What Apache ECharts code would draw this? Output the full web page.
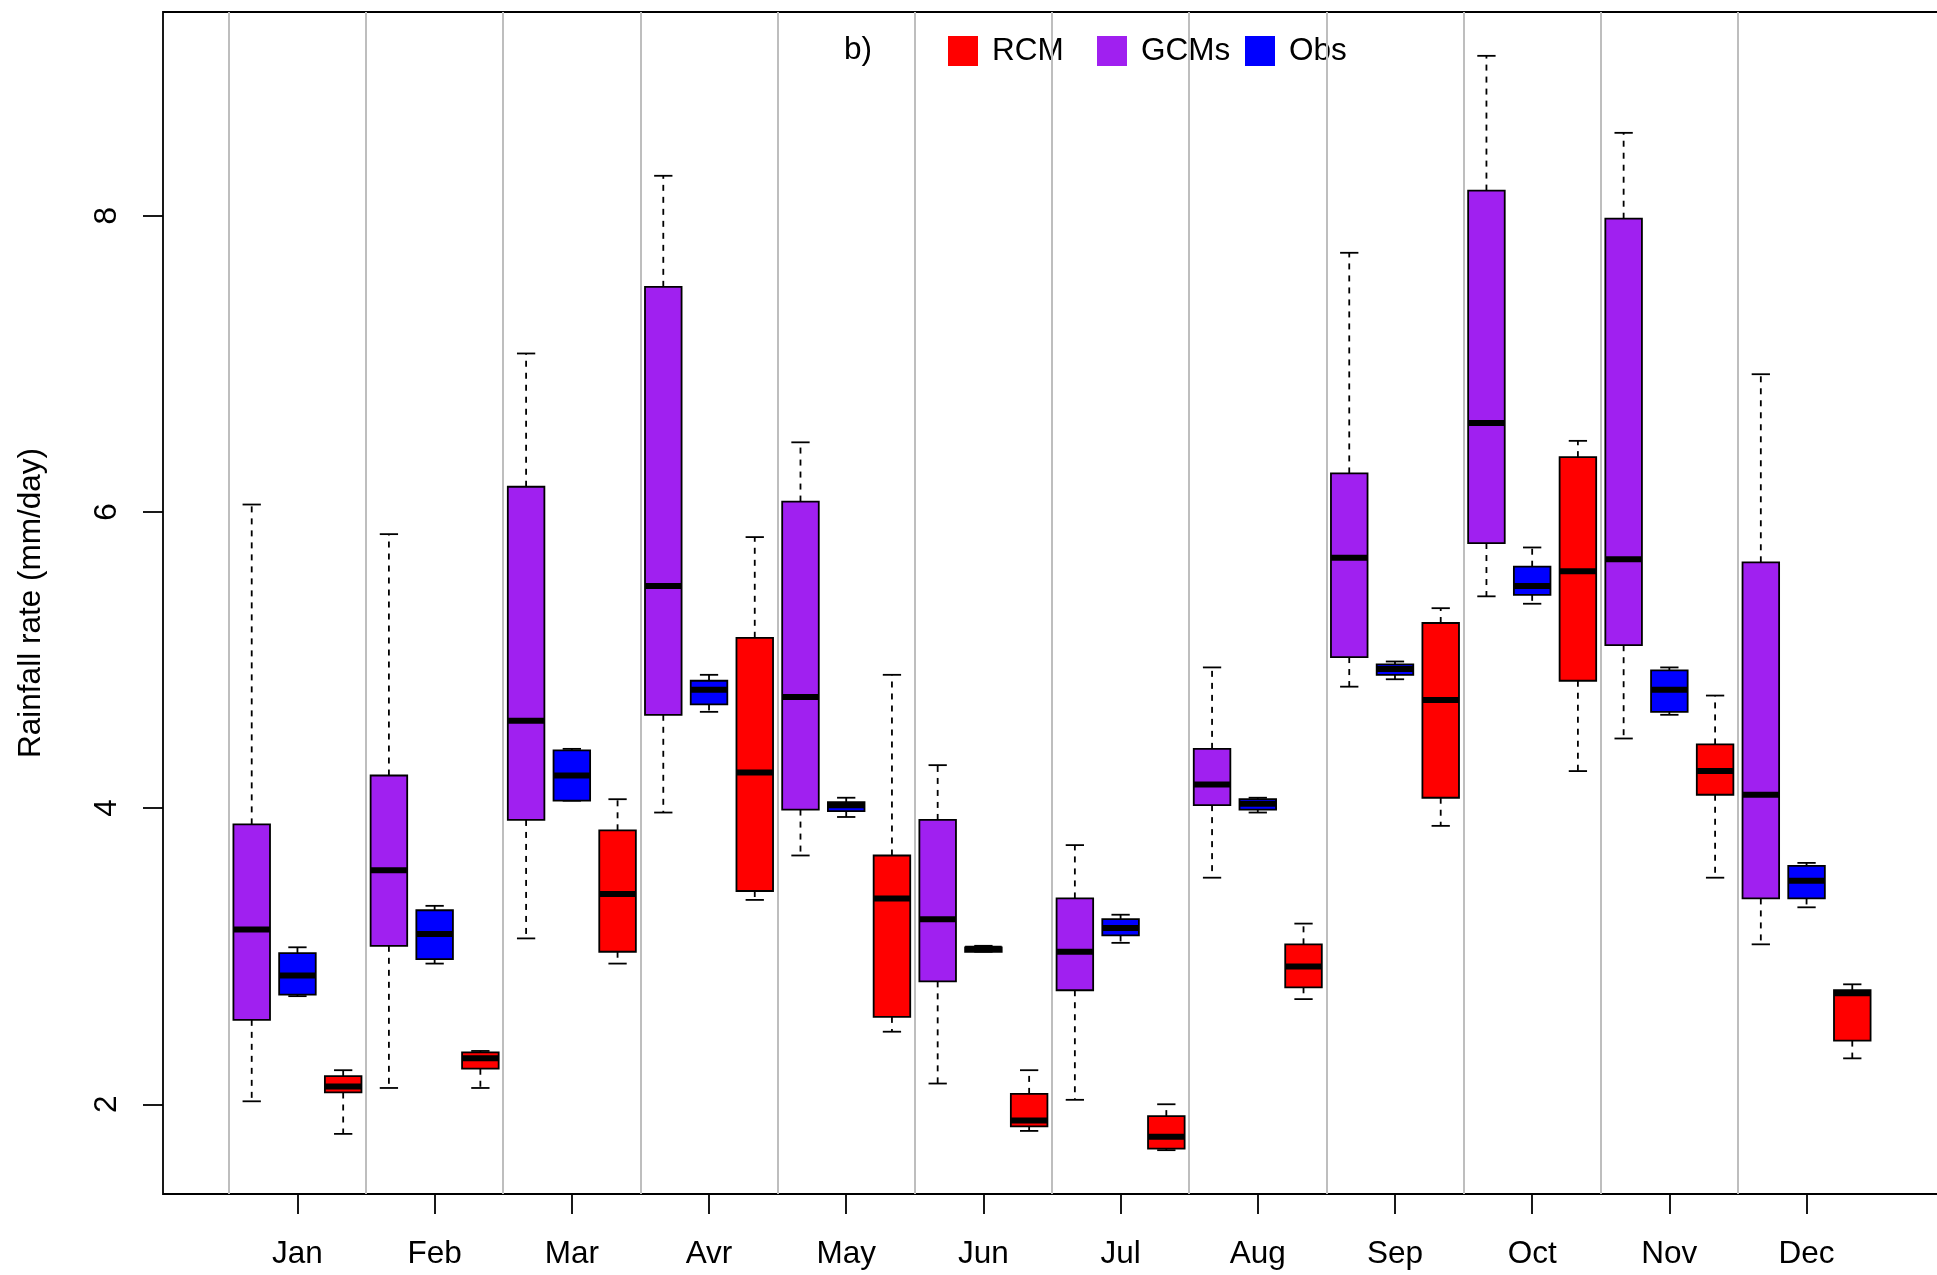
<!DOCTYPE html>
<html>
<head>
<meta charset="utf-8">
<script src="https://cdn.jsdelivr.net/npm/echarts@6/dist/echarts.min.js"></script>
<style>
html,body{margin:0;padding:0;background:#fff;}
#chart{width:1937px;height:1275px;}
</style>
</head>
<body>
<div id="chart"></div>
<script>
// Month labels
const months = ['Jan','Feb','Mar','Avr','May','Jun','Jul','Aug','Sep','Oct','Nov','Dec'];
// Each row: [lower whisker, Q1, median, Q3, upper whisker]
const gcmStats = [
  [2.02, 2.57, 3.18, 3.89, 6.05],
  [2.11, 3.07, 3.58, 4.22, 5.85],
  [3.12, 3.92, 4.59, 6.17, 7.07],
  [3.97, 4.63, 5.50, 7.52, 8.27],
  [3.68, 3.99, 4.75, 6.07, 6.47],
  [2.14, 2.83, 3.25, 3.92, 4.29],
  [2.03, 2.77, 3.03, 3.39, 3.75],
  [3.53, 4.02, 4.16, 4.40, 4.95],
  [4.82, 5.02, 5.69, 6.26, 7.75],
  [5.43, 5.79, 6.60, 8.17, 9.08],
  [4.47, 5.10, 5.68, 7.98, 8.56],
  [3.08, 3.39, 4.09, 5.66, 6.93]
];
const obsStats = [
  [2.73, 2.74, 2.87, 3.02, 3.06],
  [2.95, 2.98, 3.15, 3.31, 3.34],
  [4.05, 4.05, 4.22, 4.39, 4.40],
  [4.65, 4.70, 4.80, 4.86, 4.90],
  [3.94, 3.98, 4.02, 4.04, 4.07],
  [3.03, 3.03, 3.05, 3.06, 3.07],
  [3.09, 3.14, 3.19, 3.25, 3.28],
  [3.97, 3.99, 4.03, 4.06, 4.07],
  [4.87, 4.90, 4.94, 4.97, 4.99],
  [5.38, 5.44, 5.50, 5.63, 5.76],
  [4.63, 4.65, 4.80, 4.93, 4.95],
  [3.33, 3.39, 3.51, 3.61, 3.63]
];
const rcmStats = [
  [1.80, 2.08, 2.12, 2.19, 2.23],
  [2.11, 2.24, 2.31, 2.35, 2.36],
  [2.95, 3.03, 3.42, 3.85, 4.06],
  [3.38, 3.44, 4.24, 5.15, 5.83],
  [2.49, 2.59, 3.39, 3.68, 4.90],
  [1.82, 1.85, 1.89, 2.07, 2.23],
  [1.69, 1.70, 1.78, 1.92, 2.00],
  [2.71, 2.79, 2.93, 3.08, 3.22],
  [3.88, 4.07, 4.73, 5.25, 5.35],
  [4.25, 4.86, 5.60, 6.37, 6.48],
  [3.53, 4.09, 4.25, 4.43, 4.76],
  [2.31, 2.43, 2.75, 2.77, 2.81]
];
const yTicks = [2, 4, 6, 8];
const seriesNames = ['RCM', 'GCMs', 'Obs'];
const seriesColors = { RCM: '#FF0000', GCMs: '#A020F0', Obs: '#0000FF' };
// order of boxes within a month group (left to right)
const groupOrder = { GCMs: 1, Obs: 2, RCM: 3 };

const FONT = '"Liberation Sans", Arial, Helvetica, sans-serif';
const FS = 31.5;
const LW = 1.8;
const BOXW = 0.8;

function toData(stats, name) {
  return stats.map((s, i) => [3 * i + groupOrder[name]].concat(s));
}
const statsByName = { RCM: rcmStats, GCMs: gcmStats, Obs: obsStats };

function renderBox(params, api) {
  const x = api.value(0);
  const lo = api.coord([x, api.value(1)]);
  const q1 = api.coord([x, api.value(2)]);
  const md = api.coord([x, api.value(3)]);
  const q3 = api.coord([x, api.value(4)]);
  const hi = api.coord([x, api.value(5)]);
  const w = api.size([BOXW, 0])[0];
  const cw = w / 2;
  const cx = md[0];
  const fill = api.visual('color');
  const dash = { stroke: '#000', lineWidth: LW, lineDash: [6, 6] };
  const solid = { stroke: '#000', lineWidth: LW };
  return {
    type: 'group',
    children: [
      { type: 'line', shape: { x1: cx, y1: q3[1], x2: cx, y2: hi[1] }, style: dash },
      { type: 'line', shape: { x1: cx, y1: q1[1], x2: cx, y2: lo[1] }, style: dash },
      { type: 'line', shape: { x1: cx - cw / 2, y1: hi[1], x2: cx + cw / 2, y2: hi[1] }, style: solid },
      { type: 'line', shape: { x1: cx - cw / 2, y1: lo[1], x2: cx + cw / 2, y2: lo[1] }, style: solid },
      { type: 'rect', shape: { x: cx - w / 2, y: q3[1], width: w, height: q1[1] - q3[1] },
        style: { fill: fill, stroke: '#000', lineWidth: LW } },
      { type: 'line', shape: { x1: cx - w / 2, y1: md[1], x2: cx + w / 2, y2: md[1] },
        style: { stroke: '#000', lineWidth: 6 } }
    ]
  };
}

const monthCenters = months.map((m, i) => 3 * i + 2);
const separators = months.map((m, i) => 3 * i + 0.5);

const series = seriesNames.map((name) => ({
  name: name,
  type: 'custom',
  renderItem: renderBox,
  itemStyle: { color: seriesColors[name] },
  encode: { x: 0, y: [1, 2, 3, 4, 5] },
  data: toData(statsByName[name], name),
  z: 3
}));
// separators between month groups
series.push({
  name: 'sep',
  type: 'line',
  data: [],
  silent: true,
  z: 5,
  markLine: {
    silent: true,
    symbol: ['none', 'none'],
    label: { show: false },
    lineStyle: { color: '#BEBEBE', width: 2, type: 'solid' },
    emphasis: { disabled: true },
    animation: false,
    data: separators.map(v => ({ xAxis: v }))
  }
});

// one legend block per entry, evenly spaced like R's horizontal legend
const legendLefts = [948, 1097, 1245];
const legends = seriesNames.map((n, i) => ({
  data: [{ name: n, itemStyle: { color: seriesColors[n], borderWidth: 0 } }],
  left: legendLefts[i],
  top: 35,
  padding: 0,
  z: 1,
  icon: 'rect',
  itemWidth: 30,
  itemHeight: 30,
  selectedMode: false,
  textStyle: { fontFamily: FONT, fontSize: FS, color: '#000', padding: [0, 0, 0, 9] }
}));

const chart = echarts.init(document.getElementById('chart'), null, { renderer: 'canvas' });
chart.setOption({
  animation: false,
  backgroundColor: '#fff',
  textStyle: { fontFamily: FONT },
  title: {
    text: 'b)',
    left: 844,
    top: 34,
    padding: 0,
    z: 1,
    textStyle: { fontFamily: FONT, fontSize: FS, fontWeight: 'normal', color: '#000' }
  },
  legend: legends,
  grid: {
    left: 163, top: 12, right: -4, bottom: 81,
    show: true, borderColor: '#000', borderWidth: LW,
    containLabel: false, outerBoundsMode: 'none'
  },
  xAxis: {
    type: 'value',
    min: -0.94,
    max: 37.94,
    axisLine: { show: false, onZero: false },
    splitLine: { show: false },
    axisTick: { show: true, customValues: monthCenters, length: 20, lineStyle: { color: '#000', width: LW } },
    axisLabel: {
      customValues: monthCenters,
      formatter: v => months[Math.round((v - 2) / 3)],
      fontFamily: FONT, fontSize: FS, color: '#000', margin: 44
    }
  },
  yAxis: {
    type: 'value',
    min: 1.394,
    max: 9.376,
    name: 'Rainfall rate (mm/day)',
    nameLocation: 'middle',
    nameGap: 116,
    nameTextStyle: { fontFamily: FONT, fontSize: FS, color: '#000' },
    axisLine: { show: false, onZero: false },
    splitLine: { show: false },
    axisTick: { show: true, customValues: yTicks, length: 20, lineStyle: { color: '#000', width: LW } },
    axisLabel: {
      customValues: yTicks,
      rotate: 90,
      fontFamily: FONT, fontSize: FS, color: '#000', margin: 40
    }
  },
  series: series
});
</script>
</body>
</html>
